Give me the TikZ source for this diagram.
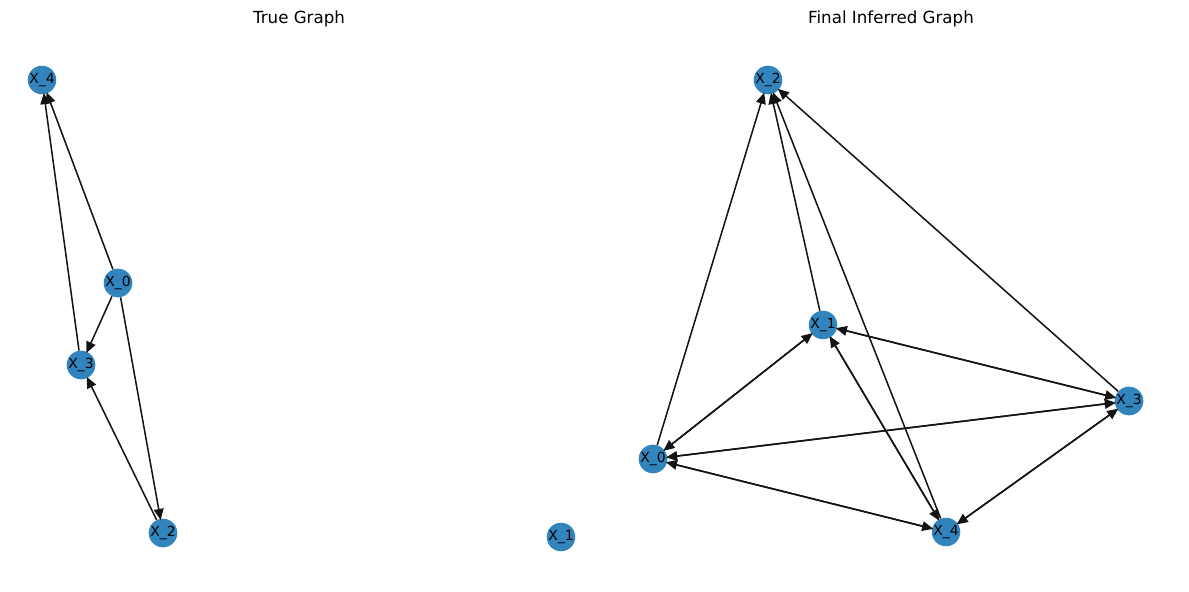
\documentclass[tikz,border=0pt]{standalone}
\usepackage{fontspec}
\setmainfont{DejaVu Sans}
\usetikzlibrary{arrows.meta}
\definecolor{nodeblue}{RGB}{50,132,189}
\definecolor{edgecol}{RGB}{20,20,20}
\begin{document}
\begin{tikzpicture}[x=0.72pt,y=-0.72pt,
  gnode/.style={circle,fill=nodeblue,draw=none,minimum size=18pt,inner sep=0pt,font=\fontsize{10}{12}\selectfont},
  edge/.style={draw=edgecol,line width=1.1pt,-{Triangle[length=8pt,width=7pt]},shorten >=-1pt},
  ttl/.style={font=\fontsize{12}{14}\selectfont}]
\useasboundingbox (0,0) rectangle (1189,591);
\node[ttl] (t1) at (299,19) {True Graph};
\node[ttl] (t2) at (891,19) {Final Inferred Graph};
% left graph
\node[gnode] (a4) at (42,80) {X\_4};
\node[gnode] (a0) at (118,283) {X\_0};
\node[gnode] (a3) at (81,365) {X\_3};
\node[gnode] (a2) at (163,533) {X\_2};
\node[gnode] (a1) at (561,537) {X\_1};
\draw[edge] (a0) -- (a4);
\draw[edge] (a0) -- (a3);
\draw[edge] (a0) -- (a2);
\draw[edge] (a3) -- (a4);
\draw[edge] (a2) -- (a3);
% right graph
\node[gnode] (b2) at (768,80) {X\_2};
\node[gnode] (b1) at (823,325) {X\_1};
\node[gnode] (b3) at (1129,401) {X\_3};
\node[gnode] (b0) at (653,459) {X\_0};
\node[gnode] (b4) at (946,532) {X\_4};
\draw[edge] (b0) -- (b2);
\draw[edge] (b1) -- (b2);
\draw[edge] (b4) -- (b2);
\draw[edge] (b3) -- (b2);
\draw[edge] (b0) -- (b1);
\draw[edge] (b1) -- (b0);
\draw[edge] (b1) -- (b3);
\draw[edge] (b3) -- (b1);
\draw[edge] (b0) -- (b3);
\draw[edge] (b3) -- (b0);
\draw[edge] (b4) -- (b3);
\draw[edge] (b3) -- (b4);
\draw[edge] (b1) -- (b4);
\draw[edge] (b4) -- (b1);
\draw[edge] (b0) -- (b4);
\draw[edge] (b4) -- (b0);
\end{tikzpicture}
\end{document}
